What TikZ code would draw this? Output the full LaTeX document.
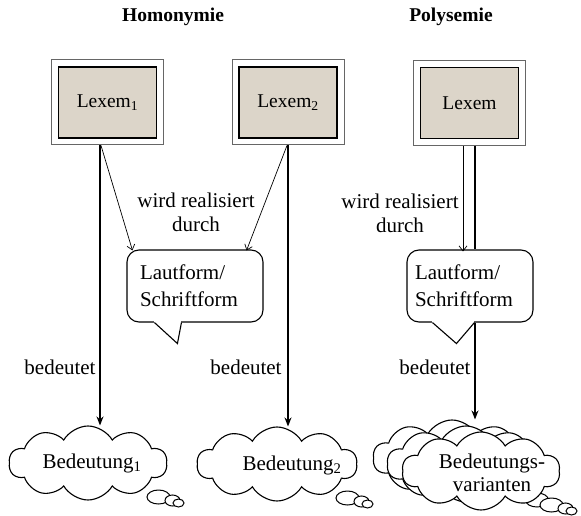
\documentclass[tikz,border=0pt]{standalone}
\usepackage{fontspec}
\setmainfont{Liberation Serif}
\usetikzlibrary{arrows.meta,shapes.symbols,shapes.geometric}
\begin{document}
\begin{tikzpicture}[x=1pt,y=-1pt,
  txt/.style={font=\fontsize{21}{24}\selectfont, inner sep=0pt},
  ttl/.style={font=\fontsize{19.5}{22}\selectfont\bfseries, inner sep=0pt},
  outerbox/.style={draw=black!60, line width=1pt, fill=white, minimum width=112pt, minimum height=85pt, inner sep=0pt},
  innerbox/.style={draw=black, line width=1.4pt, fill=lexfill, minimum width=98pt, minimum height=71pt, inner sep=0pt, font=\fontsize{19.5}{22}\selectfont},
  bubble/.style={draw=black, line width=1.1pt, rounded corners=12pt, fill=white, inner sep=0pt, align=left, font=\fontsize{21}{27}\selectfont},
  cloudy/.style={cloud, cloud puffs=10, cloud puff arc=120, aspect=2.2, draw=black, line width=1.1pt, fill=white, inner sep=0pt},
  bigarrow/.style={line width=1.8pt, -{Stealth[length=9pt,width=7pt]}},
  thinarrow/.style={line width=0.7pt, -{Straight Barb[length=5pt,width=8pt]}},
  bigline/.style={line width=1.8pt},
  puffline/.style={draw=black, line width=1pt, fill=white}
]
\definecolor{lexfill}{HTML}{DCD5C9}
\useasboundingbox (0,0) rectangle (581,516);

% titles
\node[ttl] (t1) at (173,17) {Homonymie};
\node[ttl] (t2) at (451,17) {Polysemie};

% lexem boxes
\node[outerbox] (L1o) at (107.5,102.5) {};
\node[innerbox] (L1) at (107.5,102.5) {Lexem\textsubscript{1}};
\node[outerbox] (L2o) at (288,102.5) {};
\node[innerbox] (L2) at (288,102.5) {Lexem\textsubscript{2}};
\node[outerbox] (L3o) at (469.5,103) {};
\node[innerbox] (L3) at (469.5,103) {Lexem};

% callouts
\node[bubble, minimum width=136pt, minimum height=72pt, text width=110pt] (C1) at (195,286) {Lautform/\\Schriftform};
\fill[white] ([xshift=28pt,yshift=-2pt]C1.south west) rectangle ([xshift=55pt,yshift=2pt]C1.south west);
\coordinate (C1tip) at ([xshift=51pt,yshift=-21pt]C1.south west);
\draw[line width=1.1pt] ([xshift=28pt]C1.south west) -- (C1tip) -- ([xshift=55pt]C1.south west);

\node[bubble, minimum width=126pt, minimum height=72pt, text width=110pt] (C2) at (470,286) {Lautform/\\Schriftform};
\fill[white] ([xshift=26pt,yshift=-2pt]C2.south west) rectangle ([xshift=68pt,yshift=2pt]C2.south west);
\coordinate (C2tip) at ([xshift=50pt,yshift=-21pt]C2.south west);
\draw[line width=1.1pt] ([xshift=26pt]C2.south west) -- (C2tip) -- ([xshift=68pt]C2.south west);

% clouds
\node[cloudy, minimum width=158pt, minimum height=74pt] (B1) at (88,463) {};
\draw[puffline] (158.5,497) ellipse (11.5 and 7);
\draw[puffline] (172.5,500.5) ellipse (7.5 and 5.5);
\draw[puffline] (178.5,503) ellipse (5.5 and 4);
\node[txt] (B1t) at (92,463) {Bedeutung\textsubscript{1}};

\node[cloudy, minimum width=160pt, minimum height=74pt] (B2) at (277,464) {};
\draw[puffline] (347.5,498) ellipse (11.5 and 7);
\draw[puffline] (361.5,501.5) ellipse (7.5 and 5.5);
\draw[puffline] (367.5,504) ellipse (5.5 and 4);
\node[txt] (B2t) at (292,465) {Bedeutung\textsubscript{2}};

\node[cloudy, minimum width=158pt, minimum height=76pt] (B3a) at (452,458) {};
\node[cloudy, minimum width=158pt, minimum height=76pt] (B3b) at (466,464) {};
\draw[puffline] (537,500) ellipse (11.5 and 7);
\node[cloudy, minimum width=158pt, minimum height=78pt] (B3) at (481,471) {};
\draw[puffline] (551.5,505) ellipse (11.5 and 7);
\draw[puffline] (565.5,508.5) ellipse (7.5 and 5.5);
\draw[puffline] (571.5,511) ellipse (5.5 and 4);
\node[txt, align=center, font=\fontsize{21}{23}\selectfont] (B3t) at (492,473) {Bedeutungs-\\varianten};

% labels
\node[txt, align=center] (w1) at (196,212) {wird realisiert\\durch};
\node[txt, align=center] (w2) at (400,213) {wird realisiert\\durch};
\node[txt] (b1) at (60,367) {bedeutet};
\node[txt] (b2) at (246,367) {bedeutet};
\node[txt] (b3) at (435,367) {bedeutet};

% connectors: homonymie
\draw[bigarrow] ([xshift=-7.5pt]L1o.south) -- ([xshift=-7.5pt]L1o.south |- B1.north);
\draw[thinarrow] ([xshift=-6.5pt]L1o.south) -- ([xshift=6pt,yshift=-1pt]C1.north west);
\draw[bigarrow] (L2o.south) -- (L2o.south |- B2.north);
\draw[thinarrow] ([xshift=-1pt]L2o.south) -- ([xshift=-17pt,yshift=-1pt]C1.north east);

% connectors: polysemie
\draw[thinarrow] ([xshift=-6.5pt]L3o.south) -- ([xshift=-6.5pt,yshift=-2pt]L3o.south |- C2.north);
\draw[bigline] ([xshift=5.5pt]L3o.south) -- ([xshift=5.5pt]L3o.south |- C2.north);
\draw[bigarrow] ([xshift=5.5pt]L3o.south |- C2.south) -- ([xshift=5.5pt]L3o.south |- B3a.north);
\end{tikzpicture}
\end{document}
